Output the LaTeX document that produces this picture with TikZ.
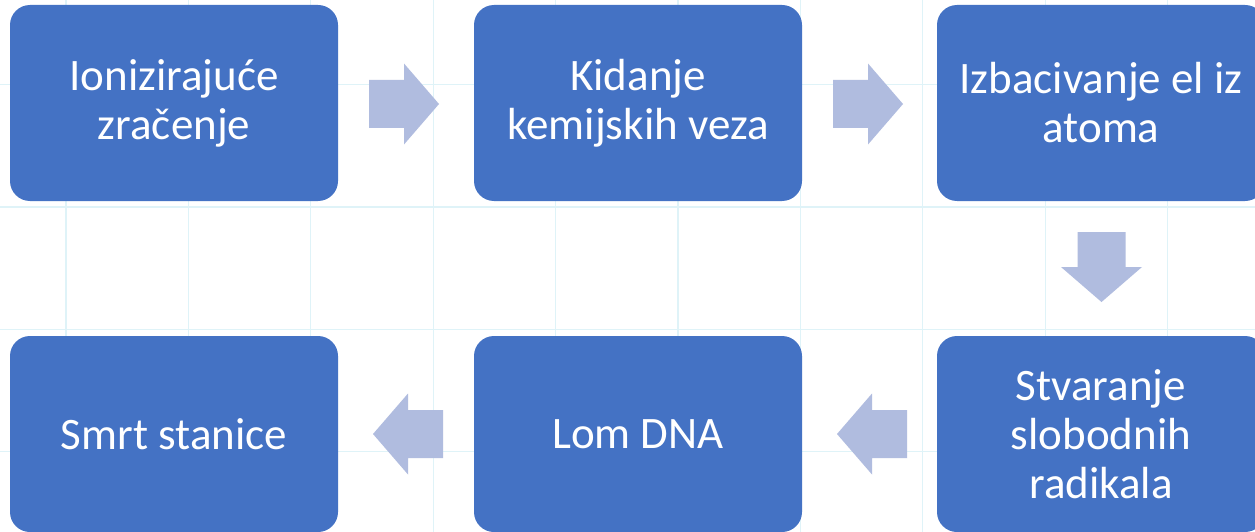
\documentclass[tikz,border=0pt]{standalone}
\usepackage{fontspec}
\setmainfont{Carlito}
\definecolor{boxblue}{HTML}{4472C4}
\definecolor{arrowblue}{HTML}{B0BCDF}
\definecolor{gridcol}{HTML}{DFF3F8}
\begin{document}
\begin{tikzpicture}[x=1pt,y=-1pt,
  stepbox/.style={fill=boxblue, rounded corners=20pt, minimum width=328pt,
    minimum height=196pt, inner sep=0pt, text=white, align=center,
    font=\fontsize{45}{49}\selectfont},
  gridline/.style={gridcol, line width=1.2pt},
  blockarrow/.pic={\fill[arrowblue] (-35,-24) -- (0,-24) -- (0,-40.5) -- (35,0)
    -- (0,40.5) -- (0,24) -- (-35,24) -- cycle;}]
\useasboundingbox (0,0) rectangle (1255,532);
\clip (0,0) rectangle (1255,532);
\fill[white] (0,0) rectangle (1255,532);
\foreach \i in {0,...,9} \draw[gridline] ({66+122.4*\i},0) -- ({66+122.4*\i},532);
\foreach \i in {0,...,3} \draw[gridline] (0,{84.5+122.4*\i}) -- (1255,{84.5+122.4*\i});
\node[stepbox] (n1) at (174,103) {Ionizirajuće\\zračenje};
\node[stepbox] (n2) at (638,103) {Kidanje\\kemijskih veza};
\node[stepbox] (n3) at (1101,103) {Izbacivanje el iz\\atoma};
\node[stepbox] (n6) at (1101,434) {Stvaranje\\slobodnih\\radikala};
\node[stepbox] (n5) at (638,434) {Lom DNA};
\node[stepbox] (n4) at (174,434) {Smrt stanice};
\pic at (404,104) {blockarrow};
\pic at (868,104) {blockarrow};
\pic[rotate=-90] at (1101.5,267) {blockarrow};
\pic[rotate=180] at (872,434) {blockarrow};
\pic[rotate=180] at (408,434) {blockarrow};
\end{tikzpicture}
\end{document}
